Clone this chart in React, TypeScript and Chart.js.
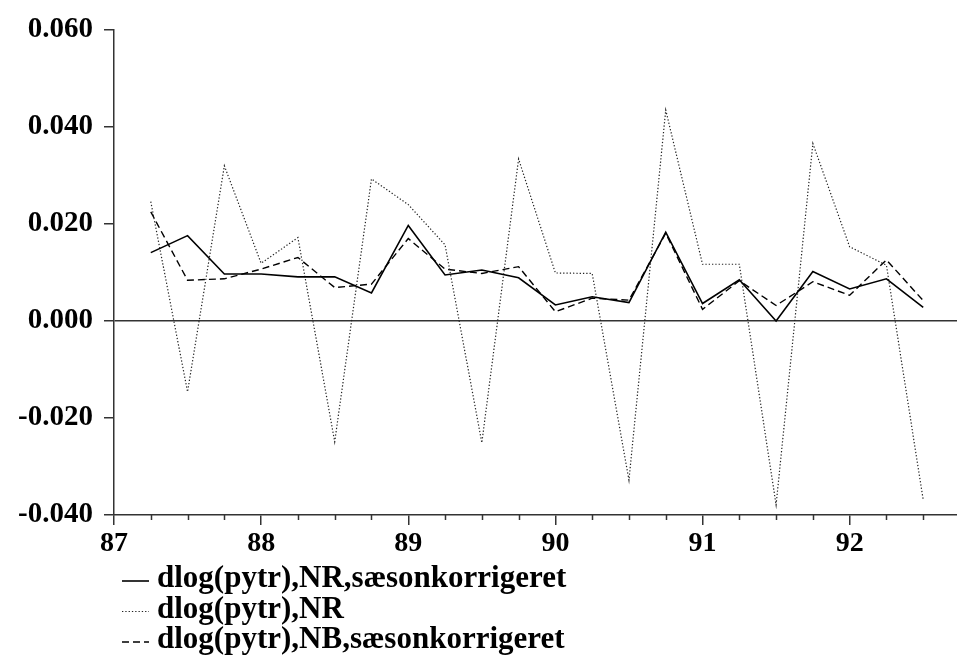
import React, { useEffect, useRef } from 'react';
import { Chart, registerables } from 'chart.js';

Chart.register(...registerables);

// Quarterly observations, 87Q2 .. 92Q3 (x = year + quarter offset)
const quarters = [
  87.25, 87.5, 87.75, 88, 88.25, 88.5, 88.75, 89, 89.25, 89.5, 89.75,
  90, 90.25, 90.5, 90.75, 91, 91.25, 91.5, 91.75, 92, 92.25, 92.5,
];

const nrSeasonAdj = [
  0.0141, 0.0176, 0.0097, 0.0097, 0.0091, 0.0091, 0.0058, 0.0197, 0.0095, 0.0105, 0.0089,
  0.0033, 0.0050, 0.0038, 0.0183, 0.0036, 0.0085, 0.0000, 0.0102, 0.0066, 0.0087, 0.0028,
];

const nrRaw = [
  0.0246, -0.0146, 0.0320, 0.0119, 0.0172, -0.0249, 0.0293, 0.0240, 0.0157, -0.0251, 0.0334,
  0.0099, 0.0098, -0.0328, 0.0435, 0.0117, 0.0117, -0.0379, 0.0366, 0.0153, 0.0115, -0.0369,
];

const nbSeasonAdj = [
  0.0225, 0.0084, 0.0087, 0.0107, 0.0131, 0.0069, 0.0076, 0.0170, 0.0107, 0.0098, 0.0112,
  0.0019, 0.0047, 0.0043, 0.0181, 0.0024, 0.0083, 0.0032, 0.0081, 0.0053, 0.0126, 0.0042,
];

const seriesLabels = [
  'dlog(pytr),NR,sæsonkorrigeret',
  'dlog(pytr),NR',
  'dlog(pytr),NB,sæsonkorrigeret',
];

// Minor (quarterly) tick positions on the x axis
const minorTicks = [
  87.25, 87.5, 87.75, 88.25, 88.5, 88.75, 89.25, 89.5, 89.75, 90.25, 90.5, 90.75,
  91.25, 91.5, 91.75, 92.25, 92.5,
];

const yMin = -0.04;
const yMax = 0.06;
const yStep = 0.02;
const xMin = 87;
const xMax = 92.75;

const FONT = '"Liberation Serif", "Times New Roman", serif';

const toPoints = (vals: number[]) => vals.map((v, i) => ({ x: quarters[i], y: v }));

const minorTickPlugin = {
  id: 'minorTicks',
  afterDraw(chart: any) {
    const ctx = chart.ctx as CanvasRenderingContext2D;
    const xs = chart.scales.x;
    const bottom = chart.chartArea.bottom;
    ctx.save();
    ctx.strokeStyle = '#333';
    ctx.lineWidth = 1.5;
    minorTicks.forEach((v) => {
      const px = Math.round(xs.getPixelForValue(v)) + 0.5;
      ctx.beginPath();
      ctx.moveTo(px, bottom);
      ctx.lineTo(px, bottom + 5);
      ctx.stroke();
    });
    ctx.restore();
  },
};

const legendPlugin = {
  id: 'stackedLegend',
  afterDraw(chart: any) {
    const ctx = chart.ctx as CanvasRenderingContext2D;
    ctx.save();
    chart.data.datasets.forEach((ds: any, i: number) => {
      const baseline = 587 + i * 30.5;
      const ly = baseline - 6;
      ctx.strokeStyle = ds.borderColor;
      ctx.lineWidth = ds.borderWidth;
      ctx.setLineDash(ds.borderDash || []);
      ctx.beginPath();
      ctx.moveTo(122, ly);
      ctx.lineTo(149, ly);
      ctx.stroke();
      ctx.setLineDash([]);
      ctx.fillStyle = '#000';
      ctx.font = `bold 31px ${FONT}`;
      ctx.textBaseline = 'alphabetic';
      ctx.textAlign = 'left';
      ctx.fillText(ds.label, 157, baseline);
    });
    ctx.restore();
  },
};

export default function App() {
  const canvasRef = useRef<HTMLCanvasElement | null>(null);

  useEffect(() => {
    if (!canvasRef.current) return;
    const chart = new Chart(canvasRef.current, {
      type: 'line',
      data: {
        datasets: [
          {
            label: seriesLabels[0],
            data: toPoints(nrSeasonAdj),
            borderColor: '#000',
            borderWidth: 1.6,
            pointRadius: 0,
            tension: 0,
          },
          {
            label: seriesLabels[1],
            data: toPoints(nrRaw),
            borderColor: '#222',
            borderWidth: 1.2,
            borderDash: [1.3, 2],
            pointRadius: 0,
            tension: 0,
          },
          {
            label: seriesLabels[2],
            data: toPoints(nbSeasonAdj),
            borderColor: '#000',
            borderWidth: 1.4,
            borderDash: [7, 4],
            pointRadius: 0,
            tension: 0,
          },
        ],
      },
      options: {
        animation: false,
        responsive: false,
        devicePixelRatio: 1,
        layout: { padding: { top: 30, left: 0, right: 0, bottom: 0 } },
        plugins: {
          legend: { display: false },
          tooltip: { enabled: false },
        },
        scales: {
          y: {
            type: 'linear',
            min: yMin,
            max: yMax,
            afterFit: (s: any) => {
              s.width = 114;
            },
            border: { display: true, color: '#333', width: 1.5 },
            grid: {
              drawOnChartArea: true,
              color: (c: any) => (c.tick && Math.abs(c.tick.value) < 1e-9 ? '#333' : 'rgba(0,0,0,0)'),
              lineWidth: 1.5,
              tickColor: '#333',
              tickLength: 10,
            },
            ticks: {
              stepSize: yStep,
              padding: 11,
              color: '#000',
              font: { family: FONT, size: 29, weight: 'bold' },
              callback: (v: any) => Number(v).toFixed(3),
            },
          },
          x: {
            type: 'linear',
            position: 'bottom',
            min: xMin,
            max: xMax,
            afterFit: (s: any) => {
              s.height = 146;
            },
            border: { display: true, color: '#333', width: 1.5 },
            grid: { drawOnChartArea: false, tickLength: 10, tickColor: '#333', lineWidth: 1.5 },
            ticks: {
              stepSize: 1,
              includeBounds: false,
              padding: 2,
              maxRotation: 0,
              autoSkip: false,
              color: '#000',
              font: { family: FONT, size: 28, weight: 'bold' },
              callback: (v: any) => String(v),
            },
          },
        },
      },
      plugins: [minorTickPlugin, legendPlugin],
    } as any);
    return () => chart.destroy();
  }, []);

  return (
    <div
      style={{
        position: 'fixed',
        left: 0,
        top: 0,
        width: 957,
        height: 661,
        overflow: 'hidden',
        background: '#fff',
      }}
    >
      <canvas ref={canvasRef} width={960} height={661} style={{ width: 960, height: 661, display: 'block' }} />
    </div>
  );
}
